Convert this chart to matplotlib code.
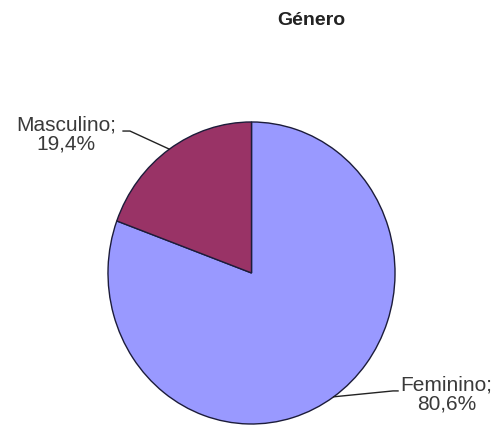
import numpy as np
from matplotlib import pyplot as plt

categories = ["Feminino", "Masculino"]
shares = [80.6, 19.4]
colors = ["#9999ff", "#993366"]
title = "Género"

plt.rcParams["font.family"] = ["Liberation Sans", "DejaVu Sans"]

fig = plt.figure(figsize=(4.97, 4.27), dpi=100)
ax = fig.add_axes([0.2173, 0.0047, 0.5775, 0.7073])

wedges, _ = ax.pie(
    shares,
    colors=colors,
    startangle=90,
    counterclock=False,
    wedgeprops=dict(edgecolor="#1c1c3a", linewidth=1.0),
)
ax.set_aspect("auto")
ax.set_xlim(-1, 1)
ax.set_ylim(-1, 1)

# label placement (data units) and elbow of leader line
label_pos = {"Feminino": (1.36, -0.80), "Masculino": (-1.29, 0.925)}
elbow = {"Feminino": (0.986, -0.781), "Masculino": (-0.847, 0.940)}
line_end = {"Feminino": (1.021, -0.781), "Masculino": (-0.895, 0.940)}

for w, cat, val in zip(wedges, categories, shares):
    mid = np.deg2rad((w.theta1 + w.theta2) / 2)
    ex, ey = np.cos(mid), np.sin(mid)
    bx, by = elbow[cat]
    cx, cy = line_end[cat]
    ax.plot([ex, bx, cx], [ey, by, cy], color="#222222", lw=1.0, clip_on=False)
    lx, ly = label_pos[cat]
    ax.text(lx, ly, f"{cat};\n{val:.1f}%".replace(".", ","),
            ha="center", va="center", fontsize=15, color="#3a3a3a",
            linespacing=1.0)

fig.text(0.626, 0.953, title, ha="center", va="center",
         fontsize=14, fontweight="bold", color="#222222")

plt.savefig("out.png", dpi=100)
